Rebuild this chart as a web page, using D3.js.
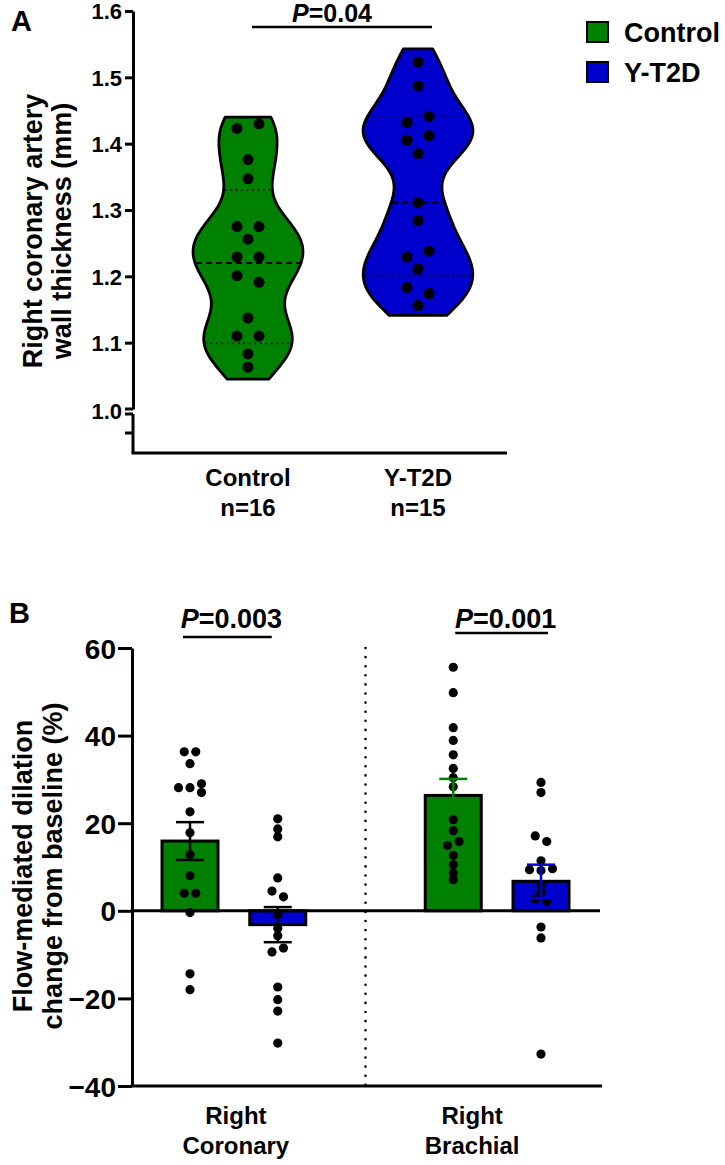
<!DOCTYPE html>
<html>
<head>
<meta charset="utf-8">
<script src="https://cdn.jsdelivr.net/npm/d3@7"></script>
<style>
  body { margin: 0; background: #fff; }
  text { font-family: "Liberation Sans", Arial, sans-serif; font-weight: bold; fill: #000; }
</style>
</head>
<body>
<svg id="chart" width="725" height="1165"></svg>
<script>
// ---- panel A data: right coronary artery wall thickness (mm) ----
const groups = ["Control", "Y-T2D"];
const groupN = ["n=16", "n=15"];
const colors = ["#008000", "#0000cc"];
const controlThickness = [1.423, 1.430, 1.376, 1.347, 1.275, 1.275, 1.256, 1.229, 1.229, 1.201, 1.191, 1.137, 1.110, 1.110, 1.083, 1.063];
const t2dThickness = [1.523, 1.487, 1.432, 1.441, 1.405, 1.412, 1.385, 1.311, 1.284, 1.229, 1.238, 1.211, 1.183, 1.174, 1.156];
const violinLow = [1.045, 1.141];
const violinHigh = [1.440, 1.543];
const medians = [1.220, 1.311];
const quart1 = [1.099, 1.201];
const quart3 = [1.330, 1.442];
const ticksA = [1.1, 1.2, 1.3, 1.4, 1.5, 1.6];

// ---- panel B data: flow-mediated dilation (%) ----
const sites = [["Right", "Coronary"], ["Right", "Brachial"]];
const coronaryControl = [36.3, 36.3, 33.6, 28.1, 28.1, 29.0, 27.0, 22.6, 17.8, 12.8, 8.0, 4.0, 4.0, -0.4, -14.4, -18.0];
const coronaryT2D = [21.0, 18.7, 16.9, 7.5, 4.5, 3.2, -0.8, -4.0, -5.7, -9.4, -8.5, -17.4, -20.3, -22.9, -30.2];
const brachialControl = [55.6, 49.8, 41.8, 38.9, 35.6, 32.5, 30.4, 28.3, 20.8, 18.3, 14.9, 15.8, 12.6, 10.5, 8.6, 7.1];
const brachialT2D = [29.3, 27.0, 17.1, 15.8, 11.4, 9.4, 9.2, 9.6, 5.8, 4.2, 2.7, 2.1, -3.7, -6.2, -32.7];
const ticksB = [-40, -20, 0, 20, 40, 60];
const pValues = ["0.003", "0.001"];

const svg = d3.select("#chart");

// spreads points that sit close together sideways, like a column scatter
function swarm(values, yScale, gap, step) {
  const order = d3.range(values.length).sort((a, b) => values[b] - values[a]);
  const offs = new Array(values.length).fill(0);
  let bins = [];
  order.forEach((i) => {
    const last = bins[bins.length - 1];
    if (last && Math.abs(yScale(values[i]) - yScale(values[last[last.length - 1]])) < gap) last.push(i);
    else bins.push([i]);
  });
  bins.forEach((b) => {
    b.sort((a, c) => a - c);
    const k = Math.min(b.length, 3);
    b.forEach((i, j) => {
      offs[i] = j < 3 ? (j - (k - 1) / 2) * step : step;
    });
  });
  return offs;
}

function gauss(u) { return Math.exp(-0.5 * u * u) / Math.sqrt(2 * Math.PI); }
function density(vals, h, y) { return d3.mean(vals, (v) => gauss((y - v) / h)) / h; }

// ================= panel A =================
const yA = d3.scaleLinear().domain([1.0, 1.6]).range([409, 11]);
const xA = d3.scalePoint().domain(groups).range([248, 418]);
const seriesA = [controlThickness, t2dThickness];
const bw = 0.037;

svg.append("text").attr("x", 11).attr("y", 31).style("font-size", "29px").text("A");

seriesA.forEach((vals, i) => {
  const cx = xA(groups[i]);
  const steps = d3.range(0, 81).map((k) => violinLow[i] + (violinHigh[i] - violinLow[i]) * k / 80);
  const prof = steps.map((y) => [y, density(vals, bw, y)]);
  const wScale = d3.scaleLinear().domain([0, d3.max(prof, (d) => d[1])]).range([0, 55]);

  const area = d3.area()
    .y((d) => yA(d[0]))
    .x0((d) => cx - wScale(d[1]))
    .x1((d) => cx + wScale(d[1]))
    .curve(d3.curveBasis);

  svg.append("path")
    .datum(prof)
    .attr("d", area)
    .attr("fill", colors[i])
    .attr("stroke", "#000")
    .attr("stroke-width", 2.8)
    .attr("stroke-linejoin", "round");

  // median and quartile lines
  [[medians[i], "6,4", 2], [quart1[i], "1.5,4", 1.6], [quart3[i], "1.5,4", 1.6]].forEach((q) => {
    const half = wScale(density(vals, bw, q[0])) - 1;
    svg.append("line")
      .attr("x1", cx - half).attr("x2", cx + half)
      .attr("y1", yA(q[0])).attr("y2", yA(q[0]))
      .attr("stroke", "#000")
      .attr("stroke-width", q[2])
      .attr("stroke-dasharray", q[1]);
  });

  const offs = swarm(vals, yA, 10, 22);
  svg.append("g").selectAll("circle")
    .data(vals)
    .enter()
    .append("circle")
      .attr("cx", (d, j) => cx + offs[j])
      .attr("cy", (d) => yA(d))
      .attr("r", 5.5)
      .attr("fill", "#000");
});

// y axis, top part
const axisA = svg.append("g")
  .attr("transform", "translate(133,0)")
  .call(d3.axisLeft(yA).tickValues(ticksA).tickFormat(d3.format(".1f")).tickSize(8).tickSizeOuter(0));
axisA.select(".domain").attr("stroke-width", 3);
axisA.selectAll(".tick line").attr("stroke-width", 3);
axisA.selectAll(".tick text").attr("x", -11).attr("dy", "0.36em").style("font-size", "22px").style("font-family", null);

// axis break and lower stub
const brk = yA(1.0);
const xAxisY = 453;
svg.append("line").attr("x1", 125).attr("x2", 133).attr("y1", brk).attr("y2", brk).attr("stroke", "#000").attr("stroke-width", 3);
svg.append("line").attr("x1", 133).attr("x2", 133).attr("y1", brk + 5).attr("y2", xAxisY).attr("stroke", "#000").attr("stroke-width", 3);
svg.append("line").attr("x1", 125).attr("x2", 133).attr("y1", brk + 5).attr("y2", brk + 5).attr("stroke", "#000").attr("stroke-width", 3);
svg.append("line").attr("x1", 125).attr("x2", 133).attr("y1", brk + 24).attr("y2", brk + 24).attr("stroke", "#000").attr("stroke-width", 3);
svg.append("text").attr("x", 122).attr("y", brk + 10).attr("text-anchor", "end").style("font-size", "22px").text("1.0");

// x axis
svg.append("line").attr("x1", 131.5).attr("x2", 507).attr("y1", xAxisY).attr("y2", xAxisY).attr("stroke", "#000").attr("stroke-width", 3);
groups.forEach((g, i) => {
  const t = svg.append("text").attr("text-anchor", "middle").style("font-size", "24px");
  t.append("tspan").attr("x", xA(g)).attr("y", 486).text(g);
  t.append("tspan").attr("x", xA(g)).attr("y", 516).text(groupN[i]);
});

// y title
svg.append("text")
  .attr("transform", "translate(42,231) rotate(-90)")
  .attr("text-anchor", "middle")
  .style("font-size", "27px")
  .text("Right coronary artery");
svg.append("text")
  .attr("transform", "translate(71,231) rotate(-90)")
  .attr("text-anchor", "middle")
  .style("font-size", "27px")
  .text("wall thickness (mm)");

// p value bracket
svg.append("line").attr("x1", 252).attr("x2", 432).attr("y1", 27).attr("y2", 27).attr("stroke", "#000").attr("stroke-width", 2.5);
const pA = svg.append("text").attr("x", 332).attr("y", 22).attr("text-anchor", "middle").style("font-size", "25px");
pA.append("tspan").style("font-style", "italic").text("P");
pA.append("tspan").text("=0.04");

// legend
groups.forEach((g, i) => {
  svg.append("rect").attr("x", 587).attr("y", 22 + i * 40).attr("width", 21).attr("height", 20)
    .attr("fill", colors[i]).attr("stroke", "#000").attr("stroke-width", 2);
  svg.append("text").attr("x", 624).attr("y", 42 + i * 40).style("font-size", "27px").text(g);
});

// ================= panel B =================
const yB = d3.scaleLinear().domain([-40, 60]).range([1086, 648]);
const slots = ["cc", "ct", "sep", "bc", "bt"];
const xB = d3.scalePoint().domain(slots).range([190, 541]);
const barW = 56;
const seriesB = [
  { slot: "cc", vals: coronaryControl, color: colors[0], err: "#000" },
  { slot: "ct", vals: coronaryT2D, color: colors[1], err: "#000" },
  { slot: "bc", vals: brachialControl, color: colors[0], err: colors[0] },
  { slot: "bt", vals: brachialT2D, color: colors[1], err: colors[1] }
];
// label centres and comparison-bar ends, as offsets from the bar centres
const siteLabelShift = [2, -25];
const pLineEnds = [[-7, -6], [2, 7]];
const pLineY = [637, 633];

svg.append("text").attr("x", 9).attr("y", 623).style("font-size", "29px").text("B");

// dotted separator
svg.append("line")
  .attr("x1", xB("sep")).attr("x2", xB("sep"))
  .attr("y1", yB(60)).attr("y2", yB(-40))
  .attr("stroke", "#000").attr("stroke-width", 2.6)
  .attr("stroke-linecap", "round")
  .attr("stroke-dasharray", "0,9.1");

seriesB.forEach((s) => {
  const cx = xB(s.slot);
  const m = d3.mean(s.vals);
  const sem = d3.deviation(s.vals) / Math.sqrt(s.vals.length);
  svg.append("rect")
    .attr("x", cx - barW / 2)
    .attr("y", Math.min(yB(m), yB(0)))
    .attr("width", barW)
    .attr("height", Math.abs(yB(m) - yB(0)))
    .attr("fill", s.color)
    .attr("stroke", "#000")
    .attr("stroke-width", 3);

  const offs = swarm(s.vals, yB, 6, 11.5);
  svg.append("g").selectAll("circle")
    .data(s.vals)
    .enter()
    .append("circle")
      .attr("cx", (d, j) => cx + offs[j])
      .attr("cy", (d) => yB(d))
      .attr("r", 4.6)
      .attr("fill", "#000");

  const eb = svg.append("g").attr("stroke", s.err).attr("stroke-width", 2.5);
  eb.append("line").attr("x1", cx).attr("x2", cx).attr("y1", yB(m - sem)).attr("y2", yB(m + sem));
  [m - sem, m + sem].forEach((v) => {
    eb.append("line").attr("x1", cx - 14).attr("x2", cx + 14).attr("y1", yB(v)).attr("y2", yB(v));
  });
});

// zero line and axes
svg.append("line").attr("x1", 132).attr("x2", 600).attr("y1", yB(0)).attr("y2", yB(0)).attr("stroke", "#000").attr("stroke-width", 3);
svg.append("line").attr("x1", 130.5).attr("x2", 602).attr("y1", yB(-40)).attr("y2", yB(-40)).attr("stroke", "#000").attr("stroke-width", 3);

const axisB = svg.append("g")
  .attr("transform", "translate(132,0)")
  .call(d3.axisLeft(yB).tickValues(ticksB).tickSize(14).tickSizeOuter(0));
axisB.select(".domain").attr("stroke-width", 3);
axisB.selectAll(".tick line").attr("stroke-width", 3);
axisB.selectAll(".tick text").attr("x", -16).attr("dy", "0.36em").style("font-size", "28px").style("font-family", null);

// site labels and p values
sites.forEach((lab, i) => {
  const left = xB(slots[i * 3]);
  const right = xB(slots[i * 3 + 1]);
  const lx = (left + right) / 2 + siteLabelShift[i];
  const t = svg.append("text").attr("text-anchor", "middle").style("font-size", "24px");
  t.append("tspan").attr("x", lx).attr("y", 1124).text(lab[0]);
  t.append("tspan").attr("x", lx).attr("y", 1154).text(lab[1]);

  const xl = left + pLineEnds[i][0];
  const xr = right + pLineEnds[i][1];
  svg.append("line").attr("x1", xl).attr("x2", xr).attr("y1", pLineY[i]).attr("y2", pLineY[i]).attr("stroke", "#000").attr("stroke-width", 2.5);
  const p = svg.append("text").attr("x", (xl + xr) / 2 + 4).attr("y", 628).attr("text-anchor", "middle").style("font-size", "27px");
  p.append("tspan").style("font-style", "italic").text("P");
  p.append("tspan").text("=" + pValues[i]);
});

// y title
svg.append("text")
  .attr("transform", "translate(32,866) rotate(-90)")
  .attr("text-anchor", "middle")
  .style("font-size", "27px")
  .text("Flow-mediated dilation");
svg.append("text")
  .attr("transform", "translate(62,866) rotate(-90)")
  .attr("text-anchor", "middle")
  .style("font-size", "27px")
  .text("change from baseline (%)");
</script>
</body>
</html>
